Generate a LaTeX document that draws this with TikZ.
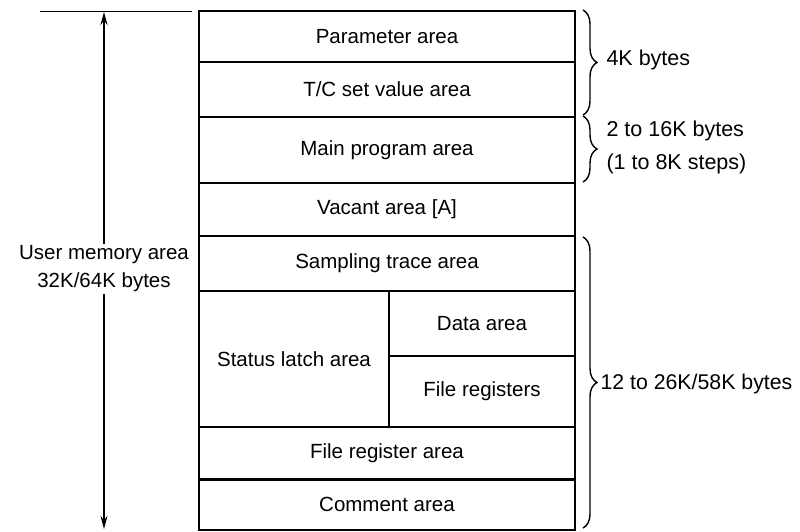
\documentclass[tikz,border=0pt]{standalone}
\usepackage{fontspec}
\setmainfont{Liberation Sans}
\usetikzlibrary{arrows.meta,decorations.pathreplacing}

\tikzset{
  area/.style={draw,line width=1.6pt,minimum width=376pt,inner sep=0pt},
  half/.style={area,minimum width=186pt},
  mbrace/.style={decorate,decoration={brace,amplitude=14pt},line width=1.4pt},
}

\begin{document}
\begin{tikzpicture}[>={Stealth[length=13pt,width=7pt]},x=1pt,y=-1pt,font=\fontsize{20.5}{28}\selectfont]
                  \useasboundingbox (0,0) rectangle (800,531);
                  \node[area,minimum height=51pt] (par) at (387,36.5){Parameter area};
                  \node[area,minimum height=55pt] (tc) at (387,89.5){T/C set value area};
                  \node[area,minimum height=66pt] (main) at (387,150){Main program area};
                  \node[area,minimum height=53pt] (vac) at (387,209.5){Vacant area [A]};
                  \node[area,minimum height=55pt] (samp) at (387,263.5){Sampling trace area};
                  \node[half,minimum width=190pt,minimum height=136pt] (stat) at (294,359){Status latch area};
                  \node[half,minimum height=65pt] (data) at (482,323.5){Data area};
                  \node[half,minimum height=71pt] (freg) at (482,391.5){File registers};
                  \node[area,minimum height=53pt] (fra) at (387,453.5){File register area};
                  \node[area,minimum height=51pt] (com) at (387,504.5){Comment area};
                  \coordinate (top) at (104,12);
                  \coordinate (bot) at (104,529);
                  \draw[line width=1.6pt](40,11.5)--(192,11.5);
                  \draw[<->,line width=1.6pt](top)--(bot);
                  \node[fill=white,align=center,inner sep=2pt] (user) at (104,269){User memory area\\32K/64K bytes};
                  \draw[mbrace](583,10)--(583,115);
                  \draw[mbrace](583,116)--(583,182);
                  \draw[mbrace](583,237)--(583,528);
                  \node[anchor=west,font=\fontsize{21.5}{33}\selectfont] (four) at (603,60){4K bytes};
                  \node[anchor=west,align=left,font=\fontsize{21.5}{33}\selectfont] (prog) at (603,147){2 to 16K bytes\\(1 to 8K steps)};
                  \node[anchor=west,font=\fontsize{21.3}{28}\selectfont] (rest) at (597,384){12 to 26K/58K bytes};
              \end{tikzpicture}
\end{document}
